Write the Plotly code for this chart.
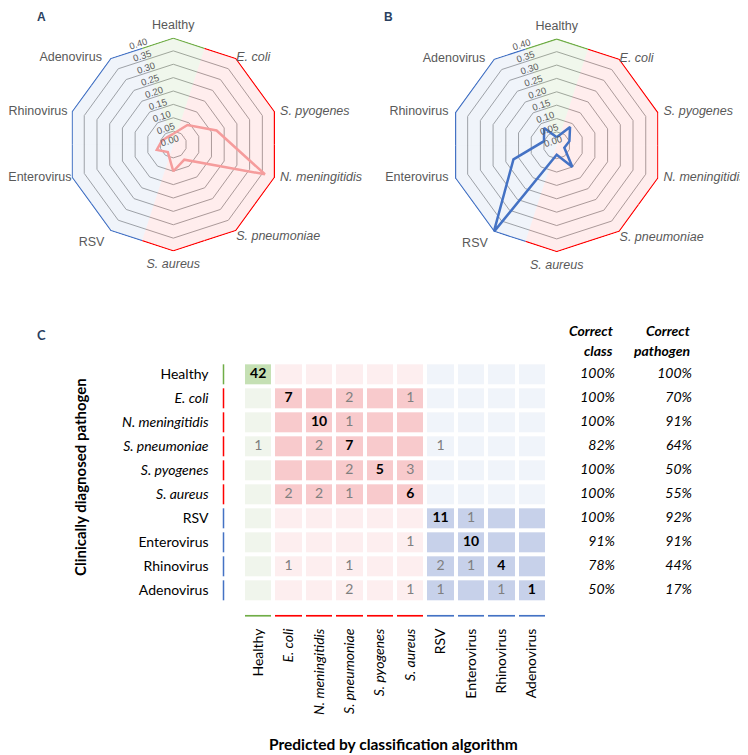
import math
import plotly.graph_objects as go

# ---- data ----
radar_axes = ["Healthy", "E. coli", "S. pyogenes", "N. meningitidis", "S. pneumoniae",
              "S. aureus", "RSV", "Enterovirus", "Rhinovirus", "Adenovirus"]
radar_class = ["healthy", "bacterial", "bacterial", "bacterial", "bacterial",
               "bacterial", "viral", "viral", "viral", "viral"]
radar_a = [0.04, 0.09, 0.17, 0.36, 0.07, 0.10, 0.035, 0.065, 0.045, 0.035]
radar_b = [0.03, 0.085, 0.05, 0.03, 0.10, 0.035, 0.40, 0.17, 0.05, 0.08]
radial_ticks = [0.00, 0.05, 0.10, 0.15, 0.20, 0.25, 0.30, 0.35, 0.40]

pathogens = ["Healthy", "E. coli", "N. meningitidis", "S. pneumoniae", "S. pyogenes",
             "S. aureus", "RSV", "Enterovirus", "Rhinovirus", "Adenovirus"]
pathogen_class = ["healthy", "bacterial", "bacterial", "bacterial", "bacterial",
                  "bacterial", "viral", "viral", "viral", "viral"]
# rows = clinically diagnosed, columns = predicted
counts = [
    [42, 0, 0, 0, 0, 0, 0, 0, 0, 0],
    [0, 7, 0, 2, 0, 1, 0, 0, 0, 0],
    [0, 0, 10, 1, 0, 0, 0, 0, 0, 0],
    [1, 0, 2, 7, 0, 0, 1, 0, 0, 0],
    [0, 0, 0, 2, 5, 3, 0, 0, 0, 0],
    [0, 2, 2, 1, 0, 6, 0, 0, 0, 0],
    [0, 0, 0, 0, 0, 0, 11, 1, 0, 0],
    [0, 0, 0, 0, 0, 1, 0, 10, 0, 0],
    [0, 1, 0, 1, 0, 0, 2, 1, 4, 0],
    [0, 0, 0, 2, 0, 1, 1, 0, 1, 1],
]
correct_class = ["100%", "100%", "100%", "82%", "100%", "100%", "100%", "91%", "78%", "50%"]
correct_pathogen = ["100%", "70%", "91%", "64%", "50%", "55%", "92%", "91%", "44%", "17%"]

# ---- styles ----
classes = ["healthy", "bacterial", "viral"]
edge_col = {"healthy": "#70AD47", "bacterial": "#FF0000", "viral": "#4472C4"}
wedge_col = {"healthy": "rgba(112,173,71,0.10)", "bacterial": "rgba(255,0,0,0.07)",
             "viral": "rgba(68,114,196,0.08)"}
cell_light = {"healthy": "#F0F5EC", "bacterial": "#FDEEEF", "viral": "#F0F4FA"}
cell_dark = {"healthy": "#C5E0B4", "bacterial": "#F8CACC", "viral": "#C7D1EA"}
# where each spoke label sits around its vertex (invisible marker size = gap)
spoke_pos = ["top center", "middle right", "middle right", "middle right", "bottom right",
             "bottom center", "bottom left", "middle left", "middle left", "middle left"]
spoke_gap_a = [7, 0, 6.4, 6.4, 0, 10, 8, 0, 4.8, 12]   # left labels kept inside the page
spoke_gap_b = [7, 0, 6.4, 6.4, 0, 10, 8, 8.8, 8.8, 12]


def label(name, cls):
    return f"<i>{name}</i>" if cls == "bacterial" else name


# the page body adds an 8px margin; positions below are page pixels
OFF = 8
W, H = 748 - OFF, 755 - OFF


def px(x):
    return (x - OFF) / W


def py(y):
    return 1 - (y - OFF) / H


def square(cx, cy, r, dx=0.0, dy=0.0):
    return dict(x=[px(cx - r + dx), px(cx + r + dx)], y=[py(cy + r + dy), py(cy - r + dy)])


fig = go.Figure()

# ---- radar charts ----
radars = [("polar", "polar3", radar_a, "#F59C9C", 173.3, 144.5, spoke_gap_a),
          ("polar2", "polar4", radar_b, "#4472C4", 556.7, 145.3, spoke_gap_b)]
R = 107
for polar, overlay, values, color, cx, cy, gaps in radars:
    fig.add_trace(go.Barpolar(
        theta=radar_axes, r=[0.40] * 10,
        marker=dict(color=[wedge_col[c] for c in radar_class], line=dict(width=0)),
        subplot=polar, showlegend=False, hoverinfo="skip"))
    fig.add_trace(go.Barpolar(
        theta=radar_axes, r=[0.005] * 10, base=[0.395] * 10,
        marker=dict(color=[edge_col[c] for c in radar_class], line=dict(width=0)),
        subplot=polar, showlegend=False, hoverinfo="skip"))
    fig.add_trace(go.Scatterpolar(
        theta=radar_axes + radar_axes[:1], r=values + values[:1],
        mode="lines", line=dict(color=color, width=2.5),
        subplot=polar, showlegend=False))
    fig.add_trace(go.Scatterpolar(
        theta=radar_axes, r=[radial_ticks[-1]] * 10, mode="markers+text",
        text=[label(n, c) for n, c in zip(radar_axes, radar_class)],
        textposition=spoke_pos, marker=dict(size=gaps, opacity=0),
        textfont=dict(family="Liberation Sans, Arial", size=12.5, color="#595959"),
        cliponaxis=False, subplot=polar, showlegend=False, hoverinfo="skip"))
    fig.add_trace(go.Scatterpolar(r=[], theta=[], subplot=overlay, showlegend=False))

polar_common = dict(
    gridshape="linear",
    bargap=0,
    bgcolor="rgba(0,0,0,0)",
    angularaxis=dict(
        type="category", categoryarray=radar_axes, rotation=90, direction="clockwise",
        showticklabels=False, showgrid=False, showline=False, ticks=""),
    radialaxis=dict(
        range=[0, radial_ticks[-1]], tickmode="array", tickvals=radial_ticks,
        showticklabels=False, showline=False, ticks="", gridcolor="#A6A6A6", gridwidth=1),
)

# radial labels sit on the edge midline (108 deg), between two vertices,
# so they live on a transparent circular overlay scaled to the polygon apothem
lab_angle = 108
apothem = math.cos(math.radians(18))
ua = (math.cos(math.radians(lab_angle)), -math.sin(math.radians(lab_angle)))
up = (math.sin(math.radians(lab_angle)), math.cos(math.radians(lab_angle)))
half_label, outward = 12.0, 4.7
sx = -half_label * up[0] + outward * ua[0]
sy = -half_label * up[1] + outward * ua[1]
overlay_common = dict(
    bgcolor="rgba(0,0,0,0)",
    angularaxis=dict(visible=False),
    radialaxis=dict(
        range=[0, radial_ticks[-1] / apothem], tickmode="array", tickvals=radial_ticks,
        tickformat=".2f", angle=lab_angle, tickangle=90, showline=False, showgrid=False,
        ticks="", tickfont=dict(family="Liberation Sans, Arial", size=9.5, color="#595959")),
)

fig.update_layout(
    polar=dict(domain=square(radars[0][4], radars[0][5], R), **polar_common),
    polar2=dict(domain=square(radars[1][4], radars[1][5], R), **polar_common),
    polar3=dict(domain=square(radars[0][4], radars[0][5], R, sx, sy), **overlay_common),
    polar4=dict(domain=square(radars[1][4], radars[1][5], R, sx, sy), **overlay_common),
)

# ---- confusion matrix ----
z = []
for rc in pathogen_class:
    row = []
    for cc in pathogen_class:
        row.append(2 * classes.index(cc) + (1 if rc == cc else 0))
    z.append(row)
scale_cols = []
for cls in classes:
    scale_cols += [cell_light[cls], cell_dark[cls]]
colorscale = [[i / 5, c] for i, c in enumerate(scale_cols)]

fig.add_trace(go.Heatmap(
    x=pathogens, y=pathogens, z=z, zmin=0, zmax=5, colorscale=colorscale,
    showscale=False, xgap=4, ygap=4, hoverinfo="skip", xaxis="x", yaxis="y"))

diag_x, diag_y, diag_t, off_x, off_y, off_t = [], [], [], [], [], []
for i, rname in enumerate(pathogens):
    for j, cname in enumerate(pathogens):
        v = counts[i][j]
        if v == 0:
            continue
        if i == j:
            diag_x.append(cname); diag_y.append(rname); diag_t.append(f"<b>{v}</b>")
        else:
            off_x.append(cname); off_y.append(rname); off_t.append(str(v))
fig.add_trace(go.Scatter(x=diag_x, y=diag_y, text=diag_t, mode="text", showlegend=False,
                         textfont=dict(family="Lato", size=14, color="#000000"),
                         xaxis="x", yaxis="y"))
fig.add_trace(go.Scatter(x=off_x, y=off_y, text=off_t, mode="text", showlegend=False,
                         textfont=dict(family="Lato", size=14, color="#7F7F7F"),
                         xaxis="x", yaxis="y"))

strip_scale = [[0, edge_col["healthy"]], [0.5, edge_col["bacterial"]], [1, edge_col["viral"]]]
# class strip left of rows
fig.add_trace(go.Heatmap(
    x=["c"], y=pathogens, z=[[classes.index(c)] for c in pathogen_class], zmin=0, zmax=2,
    colorscale=strip_scale, showscale=False, ygap=4, hoverinfo="skip", xaxis="x2", yaxis="y2"))
# class strip under columns
fig.add_trace(go.Heatmap(
    x=pathogens, y=["c"], z=[[classes.index(c) for c in pathogen_class]], zmin=0, zmax=2,
    colorscale=strip_scale, showscale=False, xgap=4, hoverinfo="skip", xaxis="x3", yaxis="y3"))

# accuracy columns
for xpos, vals in [(0, correct_class), (1, correct_pathogen)]:
    fig.add_trace(go.Scatter(x=[xpos] * 10, y=pathogens, text=[f"<i>{t}</i>" for t in vals],
                             mode="text", textposition="middle left", showlegend=False,
                             cliponaxis=False,
                             textfont=dict(family="Lato", size=14, color="#000000"),
                             xaxis="x4", yaxis="y"))

grid_y = [py(602.3), py(362.3)]
grid_x = [px(243), px(547)]
hidden = dict(showgrid=False, zeroline=False, showticklabels=False, ticks="", showline=False)
fig.update_layout(
    xaxis=dict(domain=grid_x, anchor="y", **hidden),
    yaxis=dict(domain=grid_y, anchor="x", autorange="reversed", categoryarray=pathogens, **hidden),
    xaxis2=dict(domain=[px(222.5), px(224.5)], anchor="y2", **hidden),
    yaxis2=dict(domain=grid_y, anchor="x2", autorange="reversed", categoryarray=pathogens,
                showgrid=False, zeroline=False, ticks="", showline=False,
                tickmode="array", tickvals=pathogens,
                ticktext=[label(n, c) for n, c in zip(pathogens, pathogen_class)],
                ticklabelstandoff=13,
                tickfont=dict(family="Lato", size=14, color="#000000")),
    xaxis3=dict(domain=grid_x, anchor="y3", showgrid=False, zeroline=False, ticks="",
                showline=False, tickangle=-90, tickmode="array", tickvals=pathogens,
                ticktext=[label(n, c) for n, c in zip(pathogens, pathogen_class)],
                ticklabelstandoff=8,
                tickfont=dict(family="Lato", size=14, color="#000000")),
    yaxis3=dict(domain=[py(616.8), py(614.8)], anchor="x3", **hidden),
    xaxis4=dict(domain=[px(615), px(692)], anchor="y", range=[0, 1], visible=False),
)

annots = [
    dict(text="<b>A</b>", x=px(35), y=1, font=dict(family="Liberation Sans, Arial", size=12)),
    dict(text="<b>B</b>", x=px(382), y=1, font=dict(family="Liberation Sans, Arial", size=12)),
    dict(text="<b>C</b>", x=px(35), y=py(325), font=dict(family="Lato", size=13)),
]
for a in annots:
    a.update(xref="paper", yref="paper", xanchor="left", yanchor="top", showarrow=False)
    fig.add_annotation(**a)

for xpos, words in [(0, ["Correct", "class"]), (1, ["Correct", "pathogen"])]:
    for k, w in enumerate(words):
        fig.add_annotation(text=f"<b><i>{w}</i></b>", xref="x4", x=xpos, yref="paper",
                           y=py(330 + 21 * k), xanchor="right", yanchor="middle",
                           showarrow=False, font=dict(family="Lato", size=14, color="#000000"))

fig.add_annotation(text="<b>Clinically diagnosed pathogen</b>", textangle=-90,
                   xref="paper", yref="paper", x=px(80), y=py(477),
                   xanchor="center", yanchor="middle", showarrow=False,
                   font=dict(family="Lato", size=15, color="#000000"))
fig.add_annotation(text="<b>Predicted by classification algorithm</b>",
                   xref="paper", yref="paper", x=px(393), y=py(744),
                   xanchor="center", yanchor="middle", showarrow=False,
                   font=dict(family="Lato", size=15.5, color="#000000"))

fig.update_layout(width=W, height=H, margin=dict(l=0, r=0, t=0, b=0),
                  paper_bgcolor="white", plot_bgcolor="white", showlegend=False)

fig.write_html("out.html")
